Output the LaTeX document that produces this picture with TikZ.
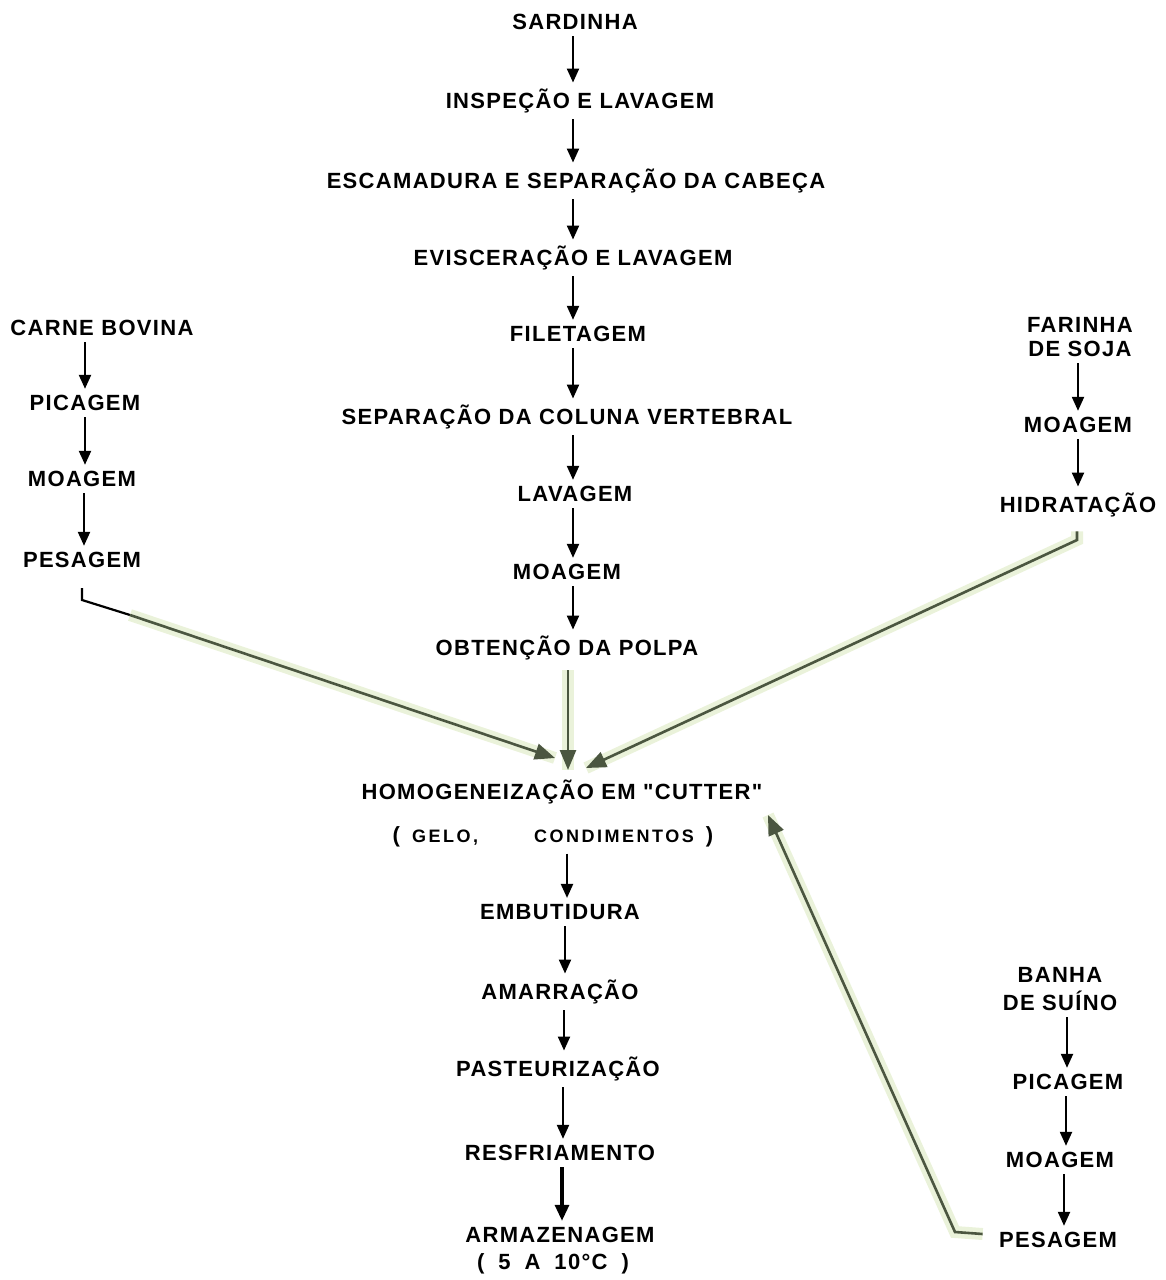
\documentclass[tikz,border=0pt]{standalone}
\usepackage{fontspec}
\usetikzlibrary{arrows.meta}
\newfontfamily\lblfont[LetterSpace=6]{Liberation Sans}
\newfontfamily\smallfont[LetterSpace=14]{Liberation Sans}
\definecolor{gline}{HTML}{4B5640}
\definecolor{ghalo}{HTML}{EAF2DA}
\begin{document}
\begin{tikzpicture}[x=0.5pt,y=-0.5pt,
  lbl/.style={font=\lblfont\bfseries\fontsize{11}{12}\selectfont, inner xsep=1pt, inner ysep=3pt, align=center},
  flow/.style={-{Triangle[length=7pt,width=6pt]}, line width=1.1pt, black},
  gconn/.style={draw=gline, line width=1.3pt, -{Triangle[length=10pt,width=8pt]},
    preaction={draw=ghalo, line width=6pt, arrows=-}},
  bline/.style={draw=black, line width=1.1pt}]
\useasboundingbox (0,0) rectangle (1166,1280);
% center column
\node[lbl] (c1) at (575,22) {SARDINHA};
\node[lbl] (c2) at (580,101) {INSPEÇÃO E LAVAGEM};
\node[lbl] (c3) at (576,181) {ESCAMADURA E SEPARAÇÃO DA CABEÇA};
\node[lbl] (c4) at (573,258) {EVISCERAÇÃO E LAVAGEM};
\node[lbl] (c5) at (578,334) {FILETAGEM};
\node[lbl] (c6) at (567,417) {SEPARAÇÃO DA COLUNA VERTEBRAL};
\node[lbl] (c7) at (575,494) {LAVAGEM};
\node[lbl] (c8) at (567,572) {MOAGEM};
\node[lbl] (c9) at (567,648) {OBTENÇÃO DA POLPA};
\node[lbl] (h) at (562,792) {HOMOGENEIZAÇÃO EM "CUTTER"};
\node[lbl] (hg) at (553,837) {(\hspace{6pt}{\smallfont\bfseries\fontsize{9}{10}\selectfont GELO,\hspace{28pt}CONDIMENTOS}\hspace{6pt})};
\node[lbl] (d1) at (560,912) {EMBUTIDURA};
\node[lbl] (d2) at (560,992) {AMARRAÇÃO};
\node[lbl] (d3) at (558,1069) {PASTEURIZAÇÃO};
\node[lbl] (d4) at (560,1153) {RESFRIAMENTO};
\node[lbl] (d5) at (560,1235) {ARMAZENAGEM};
\node[lbl, inner ysep=1pt] (d6) at (553,1264) {(\hspace{7pt}5\hspace{7pt}A\hspace{7pt}10°C\hspace{7pt})};
% left column
\node[lbl] (l1) at (102,328) {CARNE BOVINA};
\node[lbl] (l2) at (85,403) {PICAGEM};
\node[lbl] (l3) at (82,479) {MOAGEM};
\node[lbl] (l4) at (82,560) {PESAGEM};
% right column
\node[lbl] (r1) at (1080,337) {FARINHA\\DE SOJA};
\node[lbl] (r2) at (1078,425) {MOAGEM};
\node[lbl] (r3) at (1078,505) {HIDRATAÇÃO};
% bottom right column
\node[lbl, font=\lblfont\bfseries\fontsize{11}{14}\selectfont] (b1) at (1060,989) {BANHA\\DE SUÍNO};
\node[lbl] (b2) at (1068,1082) {PICAGEM};
\node[lbl] (b3) at (1060,1160) {MOAGEM};
\node[lbl] (b4) at (1058,1240) {PESAGEM};
% vertical arrows
\coordinate (cx) at (573,0);
\foreach \a/\b in {c1/c2,c2/c3,c3/c4,c4/c5,c5/c6,c6/c7,c7/c8,c8/c9}
  \draw[flow] (\a.south -| cx) -- (\b.north -| cx);
\foreach \a/\b/\x in {hg/d1/567,d1/d2/565,d2/d3/564,d3/d4/563}
  \draw[flow] (\a.south -| \x,0) -- (\b.north -| \x,0);
\draw[flow, line width=1.6pt, -{Triangle[length=8pt,width=7pt]}] (d4.south -| 562,0) -- (d5.north -| 562,0);
\foreach \a/\b/\x in {l1/l2/85,l2/l3/85,l3/l4/84}
  \draw[flow] (\a.south -| \x,0) -- (\b.north -| \x,0);
\foreach \a/\b/\x in {r1/r2/1078,r2/r3/1078}
  \draw[flow] (\a.south -| \x,0) -- (\b.north -| \x,0);
\foreach \a/\b/\x in {b1/b2/1067,b2/b3/1066,b3/b4/1064}
  \draw[flow] (\a.south -| \x,0) -- (\b.north -| \x,0);
% green connectors
\coordinate (hL) at (555,758);
\coordinate (hC) at (568,770);
\coordinate (hR) at (586,768);
\coordinate (hB) at (768,815);
\coordinate (pl1) at (82,600);
\coordinate (pl2) at (130,615);
\coordinate (pr2) at (955,1232);
\coordinate (hr1) at (1077,540);
\draw[bline] ([yshift=-7pt]l4.south) -- (pl1) -- (pl2);
\draw[gconn] (pl2) -- (hL);
\draw[gconn] ([yshift=-2pt]c9.south -| 568,0) -- (hC);
\draw[gconn] ([yshift=-4pt]r3.south -| hr1) -- (hr1) -- (hR);
\draw[gconn] ([xshift=-7pt,yshift=3pt]b4.west) -- (pr2) -- (hB);
\end{tikzpicture}
\end{document}
